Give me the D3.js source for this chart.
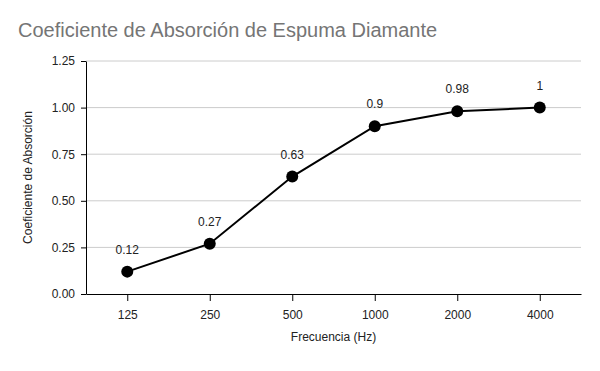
<!DOCTYPE html>
<html>
<head>
<meta charset="utf-8">
<script src="https://cdn.jsdelivr.net/npm/d3@7"></script>
<style>
  body { margin: 0; background: #fff; }
  text { font-family: "Liberation Sans", Arial, sans-serif; }
</style>
</head>
<body>
<div id="chart"></div>
<script>
// Chart data
var frequencies = ["125", "250", "500", "1000", "2000", "4000"];
var coefficients = [0.12, 0.27, 0.63, 0.9, 0.98, 1];
var yTicks = [0, 0.25, 0.5, 0.75, 1, 1.25];

var svgWidth = 600;
var svgHeight = 371;

var margin = { top: 61, right: 19, bottom: 77, left: 86 };
var chartWidth = svgWidth - margin.left - margin.right;
var chartHeight = svgHeight - margin.top - margin.bottom;

var svg = d3.select("#chart")
  .append("svg")
  .attr("width", svgWidth)
  .attr("height", svgHeight);

// Title
svg.append("text")
  .attr("x", 18)
  .attr("y", 37)
  .attr("font-size", 20)
  .attr("fill", "#757575")
  .text("Coeficiente de Absorción de Espuma Diamante");

var chartGroup = svg.append("g")
  .attr("transform", `translate(${margin.left}, ${margin.top})`);

var xScale = d3.scalePoint()
  .domain(frequencies)
  .range([0, chartWidth])
  .padding(0.5);

var yScale = d3.scaleLinear()
  .domain([0, 1.25])
  .range([chartHeight, 0]);

// Gridlines
chartGroup.append("g")
  .selectAll("line")
  .data(yTicks.filter(d => d > 0))
  .join("line")
  .attr("x1", 0)
  .attr("x2", chartWidth)
  .attr("y1", d => yScale(d))
  .attr("y2", d => yScale(d))
  .attr("stroke", "#cccccc")
  .attr("stroke-width", 1);

// Left axis
var leftAxis = d3.axisLeft(yScale)
  .tickValues(yTicks)
  .tickFormat(d3.format(".2f"))
  .tickSize(5)
  .tickPadding(6)
  .tickSizeOuter(0);

var yAxisG = chartGroup.append("g").call(leftAxis);
yAxisG.select(".domain").attr("stroke", "#000");
yAxisG.selectAll("line").attr("stroke", "#000");
yAxisG.selectAll("text")
  .attr("font-size", 12)
  .attr("font-family", "Liberation Sans, Arial, sans-serif")
  .attr("fill", "#222");

// Bottom axis
var bottomAxis = d3.axisBottom(xScale)
  .tickSize(7)
  .tickPadding(9)
  .tickSizeOuter(0);

var xAxisG = chartGroup.append("g")
  .attr("transform", `translate(0, ${chartHeight})`)
  .call(bottomAxis);
xAxisG.select(".domain").attr("stroke", "#000");
xAxisG.selectAll("line").attr("stroke", "#000");
xAxisG.selectAll("text")
  .attr("font-size", 12)
  .attr("font-family", "Liberation Sans, Arial, sans-serif")
  .attr("fill", "#222");

// Line and points
var points = frequencies.map((f, i) => ({ f: f, v: coefficients[i] }));

var drawLine = d3.line()
  .x(d => xScale(d.f))
  .y(d => yScale(d.v));

chartGroup.append("path")
  .attr("d", drawLine(points))
  .attr("fill", "none")
  .attr("stroke", "#000")
  .attr("stroke-width", 2);

chartGroup.selectAll("circle")
  .data(points)
  .join("circle")
  .attr("cx", d => xScale(d.f))
  .attr("cy", d => yScale(d.v))
  .attr("r", 6)
  .attr("fill", "#000");

// Data labels
chartGroup.selectAll(".dataLabel")
  .data(points)
  .join("text")
  .attr("class", "dataLabel")
  .attr("x", d => xScale(d.f))
  .attr("y", d => yScale(d.v) - 18)
  .attr("text-anchor", "middle")
  .attr("font-size", 12)
  .attr("fill", "#222")
  .text(d => d.v);

// Axis titles
svg.append("text")
  .attr("transform", `translate(32, ${margin.top + chartHeight / 2}) rotate(-90)`)
  .attr("text-anchor", "middle")
  .attr("font-size", 12)
  .attr("fill", "#222")
  .text("Coeficiente de Absorción");

svg.append("text")
  .attr("x", margin.left + chartWidth / 2)
  .attr("y", 341)
  .attr("text-anchor", "middle")
  .attr("font-size", 12)
  .attr("fill", "#222")
  .text("Frecuencia (Hz)");
</script>
</body>
</html>
